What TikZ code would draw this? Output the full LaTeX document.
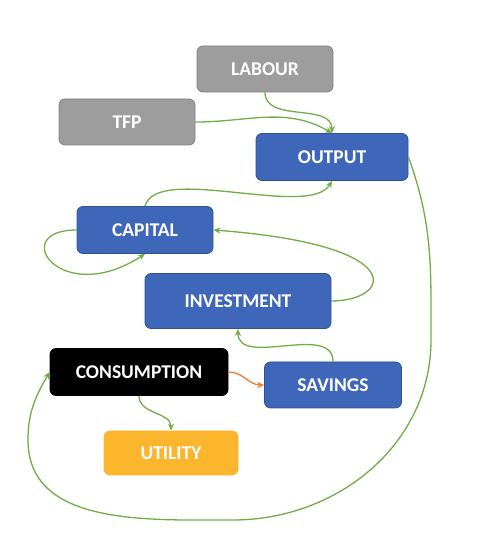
\documentclass[tikz,border=0pt]{standalone}
\usepackage{fontspec}
\setmainfont{Carlito}
\usepackage{tikz}
\usetikzlibrary{arrows.meta, calc, positioning}
\definecolor{Grey}{HTML}{9D9D9D}
\definecolor{GreyEdge}{HTML}{7F7F7F}
\definecolor{Blue}{HTML}{3F67B9}
\definecolor{BlueEdge}{HTML}{2F528F}
\definecolor{Gold}{HTML}{FBB62D}
\definecolor{Leaf}{HTML}{70AD47}
\definecolor{Rust}{HTML}{ED7D31}

\begin{document}
\begin{tikzpicture}[>=Stealth, x=1pt, y=1pt,
  box/.style={rounded corners=6pt, line width=0.8pt, text=white,
    font=\fontsize{19.5}{22}\selectfont\bfseries, inner sep=0pt},
  greybox/.style={box, fill=Grey, draw=GreyEdge},
  bluebox/.style={box, fill=Blue, draw=BlueEdge},
  flow/.style={->, draw=Leaf, line width=1.3pt, >={Stealth[length=7pt, width=6pt]}},
  spend/.style={flow, draw=Rust}]
  \useasboundingbox (0,0) rectangle (479,539);
  \node[greybox, minimum width=136, minimum height=46] (labour) at (265,470) {LABOUR};
  \node[greybox, minimum width=136, minimum height=46] (tfp) at (127,417) {TFP};
  \node[bluebox, minimum width=152, minimum height=47] (output) at (332,382) {OUTPUT};
  \node[bluebox, minimum width=136, minimum height=47] (capital) at (145,309) {CAPITAL};
  \node[bluebox, minimum width=186, minimum height=55] (investment) at (238,238) {INVESTMENT};
  \node[box, fill=black, draw=black, minimum width=178, minimum height=47] (consumption) at (139,167) {CONSUMPTION};
  \node[bluebox, minimum width=137, minimum height=46] (savings) at (333,154) {SAVINGS};
  \node[box, fill=Gold, draw=Gold, minimum width=134, minimum height=44] (utility) at (171,86) {UTILITY};
  \coordinate (right) at (431,199);
  \coordinate (bottom) at (233,19);
  \coordinate (left) at (28,99);

  \draw[flow] (labour.south) to[out=-90, in=90] (output.north);
  \draw[flow] (tfp.east) to[out=0, in=150] (output.north);
  \draw[flow] (capital.north) to[out=75, in=-120, looseness=0.6] (output.south);
  \draw[flow] (capital.west) .. controls (7,309) and (60,230) .. (capital.south);
  \draw[flow] (investment.east) .. controls (391,238) and (413,294) .. (capital.east);
  \draw[flow] (savings.north) to[out=90, in=-90] (investment.south);
  \draw[spend] (consumption.east) to[out=0, in=180] (savings.west);
  \draw[flow] (consumption.south) to[out=-90, in=90] (utility.north);
  \draw[flow] (output.east) to[out=-70, in=90] (right) to[out=-90, in=0] (bottom)
    to[out=180, in=-90] (left) to[out=90, in=-120] (consumption.west);
\end{tikzpicture}
\end{document}
